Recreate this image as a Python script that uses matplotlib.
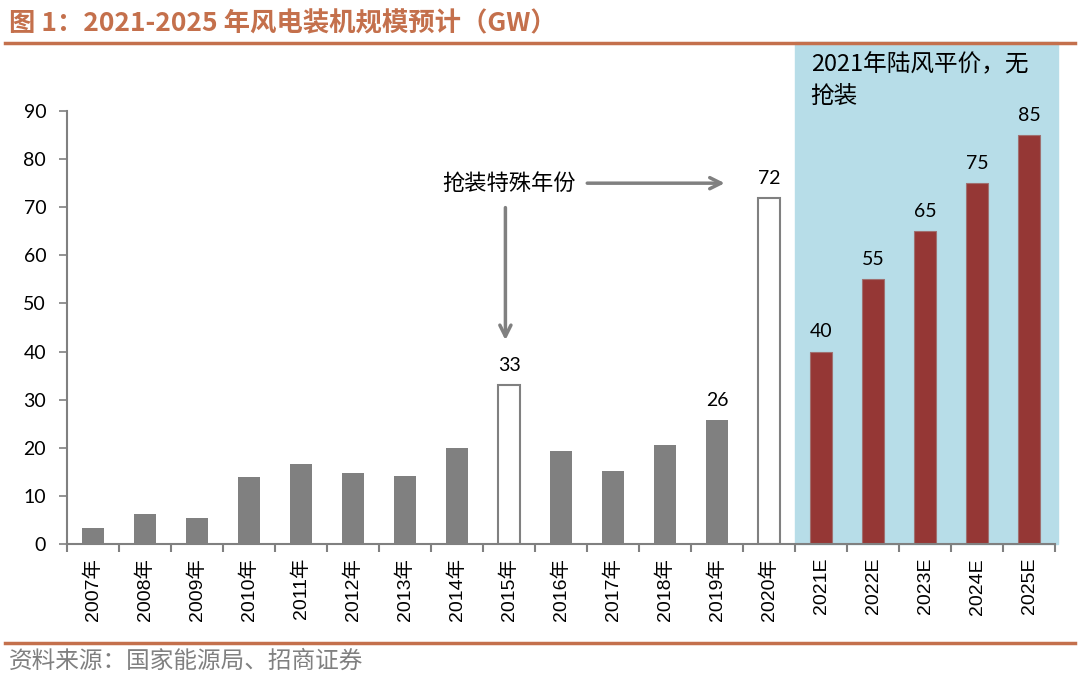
import numpy as np
import matplotlib.pyplot as plt

plt.rcParams['font.family'] = ['Liberation Sans', 'Noto Sans CJK SC']

# 数据
years = ['2007年', '2008年', '2009年', '2010年', '2011年', '2012年', '2013年',
         '2014年', '2015年', '2016年', '2017年', '2018年', '2019年', '2020年',
         '2021E', '2022E', '2023E', '2024E', '2025E']
capacity = [3.3, 6.2, 5.4, 13.9, 16.6, 14.8, 14.1, 20.0, 33, 19.3, 15.2, 20.6,
            25.8, 72, 40, 55, 65, 75, 85]
labelled = {'2015年': '33', '2019年': '26', '2020年': '72', '2021E': '40',
            '2022E': '55', '2023E': '65', '2024E': '75', '2025E': '85'}
hollow = ['2015年', '2020年']

gray = '#808080'
red = '#953735'
brown = '#c4704c'

fig = plt.figure(figsize=(10.8, 6.79), dpi=100)
ax = fig.add_axes([0.062, 0.1988, 0.915, 0.6377])

x = np.arange(len(years))

# 蓝色背景（预测区间）
ax.axvspan(13.5, 18.55, ymin=0, ymax=1.159, color='#b7dde8', zorder=0, clip_on=False)

for i, (yr, v) in enumerate(zip(years, capacity)):
    if yr in hollow:
        ax.bar(i, v, width=0.42, color='white', edgecolor=gray, linewidth=1.5, zorder=2)
    elif yr.endswith('E'):
        ax.bar(i, v, width=0.42, color=red, edgecolor='#a07070', linewidth=0.8, zorder=2)
    else:
        ax.bar(i, v, width=0.42, color=gray, zorder=2)
    if yr in labelled:
        ax.annotate(labelled[yr], (i, v), xytext=(0, 8), textcoords='offset points',
                    ha='center', va='bottom', fontsize=14, family=['Lato', 'DejaVu Sans'])

ax.set_xlim(-0.5, 18.5)
ax.set_ylim(0, 90)
ax.set_yticks(range(0, 91, 10))
ax.tick_params(axis='y', labelsize=14, direction='out', length=6, color=gray,
               width=1.2, pad=9)
for lab in ax.get_yticklabels():
    lab.set_family(['Lato', 'DejaVu Sans'])

ax.set_xticks(x)
ax.set_xticklabels(years, rotation=90, fontsize=14)
ax.tick_params(axis='x', length=0, pad=10)
ax.set_xticks(np.arange(-0.5, 19, 1), minor=True)
ax.tick_params(axis='x', which='minor', direction='out', length=6, color=gray, width=1.5)

for s in ['top', 'right']:
    ax.spines[s].set_visible(False)
for s in ['left', 'bottom']:
    ax.spines[s].set_color(gray)
    ax.spines[s].set_linewidth(1.5)

# 注释
ax.text(8.0, 75, '抢装特殊年份', ha='center', va='center', fontsize=16,
        family=['Noto Sans CJK SC'])
ax.annotate('', xy=(12.2, 75), xytext=(9.45, 75),
            arrowprops=dict(arrowstyle='->,head_length=0.8,head_width=0.4',
                            color=gray, lw=2.5))
ax.annotate('', xy=(7.93, 41.8), xytext=(7.93, 70.5),
            arrowprops=dict(arrowstyle='->,head_length=0.8,head_width=0.4',
                            color=gray, lw=2.5))
ax.text(13.8, 102, '2021年陆风平价，无\n抢装', ha='left', va='top', fontsize=17,
        linespacing=1.5, family=['Noto Sans CJK SC'])

# 标题与来源
fig.text(0.008, 0.965, '图 1：2021-2025 年风电装机规模预计（GW）', fontsize=19,
         fontweight='bold', color=brown, ha='left', va='center',
         family=['Noto Sans CJK SC'])
fig.add_artist(plt.Line2D([0.005, 0.995], [0.937, 0.937], color=brown, lw=2.5))
fig.add_artist(plt.Line2D([0.005, 0.995], [0.053, 0.053], color=brown, lw=2.5))
fig.text(0.008, 0.026, '资料来源：国家能源局、招商证券', fontsize=17, color=gray,
         ha='left', va='center', family=['Noto Sans CJK SC'])

fig.savefig('out.png', dpi=100)
